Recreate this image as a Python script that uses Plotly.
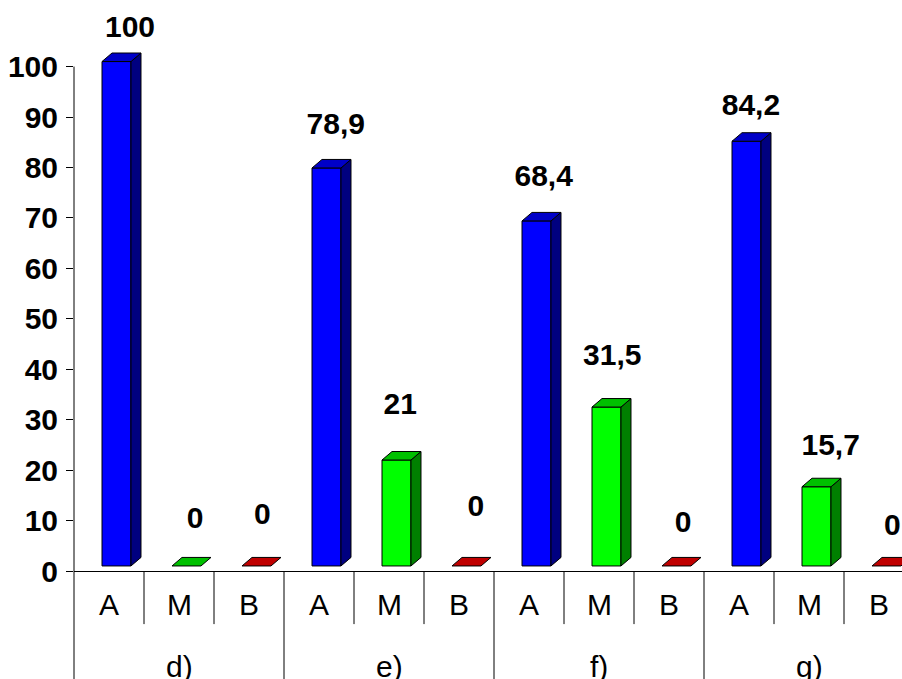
import plotly.graph_objects as go

# ---- data ----
groups = ["d)", "e)", "f)", "g)"]
levels = ["A", "M", "B"]
A_vals = [100, 78.9, 68.4, 84.2]
M_vals = [0, 21, 31.5, 15.7]
B_vals = [0, 0, 0, 0]
y_ticks = [0, 10, 20, 30, 40, 50, 60, 70, 80, 90, 100]

# ---- styling / layout tweaks (not data) ----
FONT = "Liberation Sans, Arial, sans-serif"
colors = {  # front, top, side
    "A": ("#0000FF", "#0000C8", "#000080"),
    "M": ("#00FF00", "#00C000", "#008000"),
    "B": ("#FF0000", "#C00000", "#800000"),
}
FRONT_SHIFT = 0.107
FRONT_W = 0.414
DEPTH_X = 0.143
DEPTH_Y = 1.69
BASE = 1.0
# label placement relative to each bar (category units, value units)
label_dx = [0.30, 0.23, 0.19, 0.24, 0.16, 0.24, 0.21, 0.19, 0.20, 0.17, 0.31, 0.19]
label_dy = [7.3, 10.1, 10.9, 9.3, 11.7, 12.3, 9.5, 10.9, 9.3, 7.6, 8.7, 8.7]

series = {"A": A_vals, "M": M_vals, "B": B_vals}

# flatten in axis order
bars = []
for gi, g in enumerate(groups):
    for li, lv in enumerate(levels):
        bars.append((gi * len(levels) + li, lv, series[lv][gi]))

fig = go.Figure()

def fmt(v):
    s = ("%g" % v)
    return s.replace(".", ",")

# front faces via bar traces (one per level)
for lv in levels:
    xs, ys = [], []
    for idx, l, v in bars:
        if l == lv:
            xs.append(idx + FRONT_SHIFT)
            ys.append(v if v > 0 else None)
    fig.add_trace(go.Bar(
        x=xs, y=ys, base=BASE, width=FRONT_W,
        marker=dict(color=colors[lv][0], line=dict(color="black", width=1)),
        hoverinfo="skip", showlegend=False,
    ))

# side and top faces
for idx, lv, v in bars:
    xl = idx + FRONT_SHIFT - FRONT_W / 2
    xr = idx + FRONT_SHIFT + FRONT_W / 2
    top = BASE + v
    if v > 0:
        fig.add_trace(go.Scatter(
            x=[xr, xr + DEPTH_X, xr + DEPTH_X, xr, xr],
            y=[BASE, BASE + DEPTH_Y, top + DEPTH_Y, top, BASE],
            mode="lines", fill="toself", fillcolor=colors[lv][2],
            line=dict(color="black", width=1),
            hoverinfo="skip", showlegend=False,
        ))
    fig.add_trace(go.Scatter(
        x=[xl, xl + DEPTH_X, xr + DEPTH_X, xr, xl],
        y=[top, top + DEPTH_Y, top + DEPTH_Y, top, top],
        mode="lines", fill="toself", fillcolor=colors[lv][1],
        line=dict(color="black", width=1),
        hoverinfo="skip", showlegend=False,
    ))

# data labels
fig.add_trace(go.Scatter(
    x=[b[0] + label_dx[k] for k, b in enumerate(bars)],
    y=[b[2] + label_dy[k] for k, b in enumerate(bars)],
    text=[fmt(b[2]) for b in bars],
    mode="text", textposition="middle center",
    textfont=dict(family=FONT, size=30, color="black", weight="bold"),
    cliponaxis=False, hoverinfo="skip", showlegend=False,
))

n = len(bars)
shapes = []
# y axis line (0..100) and its continuation down through the category area
shapes.append(dict(type="line", xref="paper", yref="y", x0=0, x1=0, y0=0, y1=max(y_ticks),
                   line=dict(color="black", width=1)))
shapes.append(dict(type="line", xref="paper", yref="paper", x0=0, x1=0, y0=-0.2, y1=0,
                   line=dict(color="black", width=1)))
for k in range(n - 1):
    bx = k + 0.5
    is_group = (k + 1) % len(levels) == 0
    shapes.append(dict(type="line", xref="x", yref="paper", x0=bx, x1=bx,
                       y0=-0.2 if is_group else -0.093, y1=0,
                       line=dict(color="black", width=1)))

annotations = []
for idx, lv, v in bars:
    annotations.append(dict(x=idx, y=-0.0595, xref="x", yref="paper", text=lv,
                            showarrow=False, yanchor="middle",
                            font=dict(family=FONT, size=30, color="black")))
for gi, g in enumerate(groups):
    annotations.append(dict(x=gi * len(levels) + 1, y=-0.168, xref="x", yref="paper", text=g,
                            showarrow=False, yanchor="middle",
                            font=dict(family=FONT, size=30, color="black")))

fig.update_layout(
    width=902, height=679,
    margin=dict(l=74, r=0, t=0, b=108, pad=0),
    paper_bgcolor="white", plot_bgcolor="white",
    barmode="overlay",
    showlegend=False,
    shapes=shapes, annotations=annotations,
    xaxis=dict(range=[-0.5, -0.5 + 828 / 70], showgrid=False, zeroline=False,
               showline=True, linecolor="black", linewidth=1, ticks="",
               showticklabels=False, fixedrange=True),
    yaxis=dict(range=[0, 113.2], showgrid=False, zeroline=False, showline=False,
               tickvals=y_ticks, ticktext=[str(t) for t in y_ticks],
               ticks="outside", ticklen=7, tickwidth=1, tickcolor="black",
               ticklabelstandoff=2,
               tickfont=dict(family=FONT, size=30, color="black", weight="bold"),
               fixedrange=True),
)

fig.write_html("out.html")
